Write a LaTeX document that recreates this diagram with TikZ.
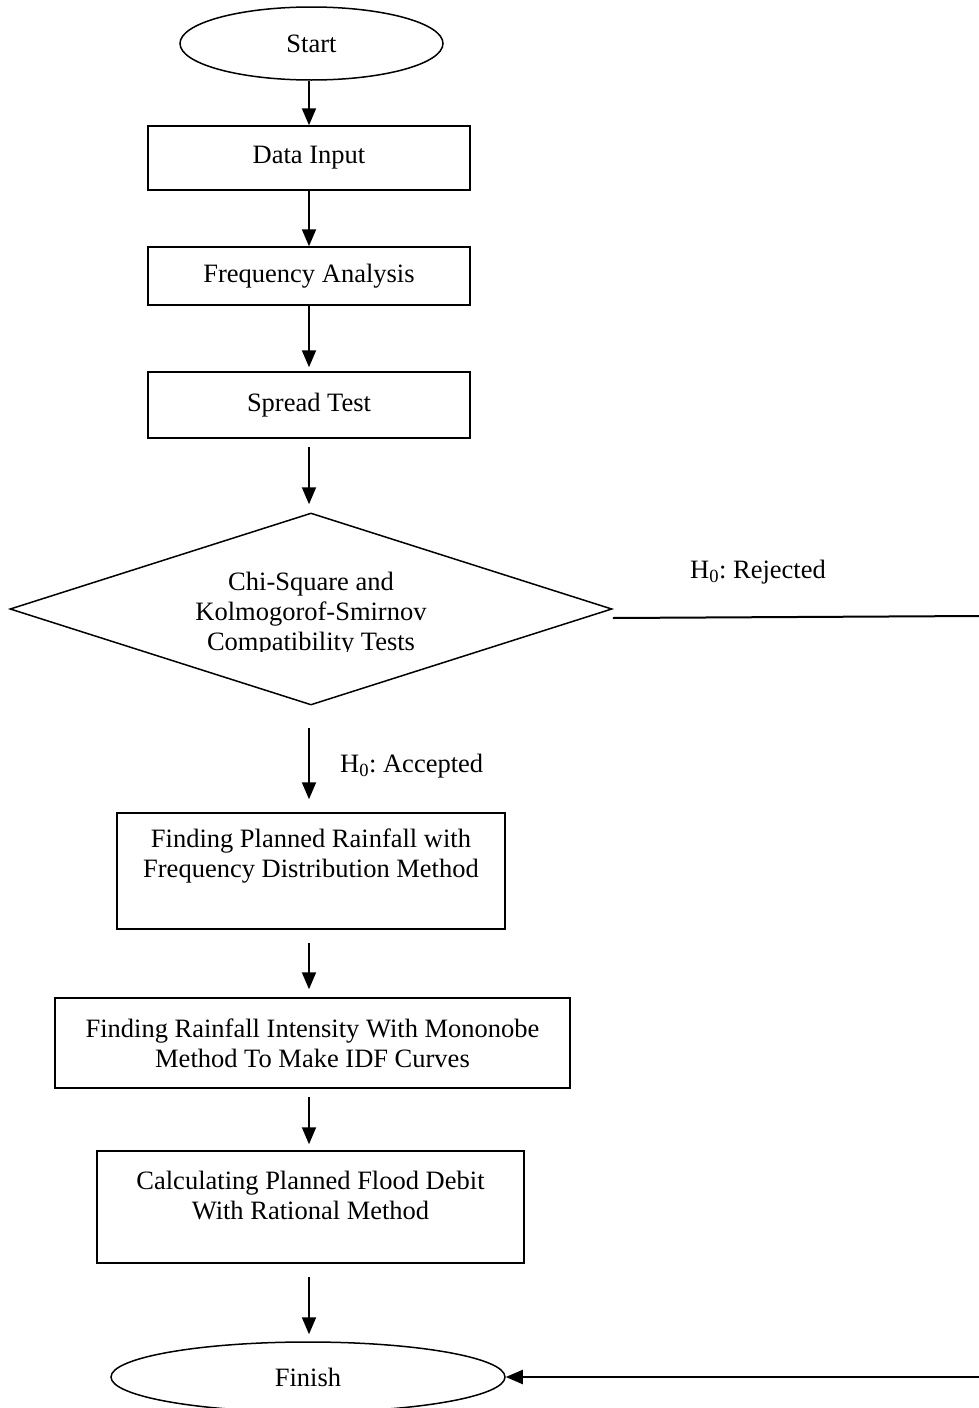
\documentclass[tikz,border=0pt]{standalone}
\usepackage{fontspec}
\setmainfont{Liberation Serif}
\usetikzlibrary{arrows.meta,shapes.geometric}
\frenchspacing
\begin{document}
\begin{tikzpicture}[x=1pt,y=-1pt,
  every node/.style={font=\fontsize{26.5}{30}\selectfont},
  box/.style={draw,line width=1.5pt,inner sep=0pt,align=center},
  term/.style={draw,ellipse,line width=1.5pt,inner sep=0pt},
  txt/.style={align=center,inner sep=0pt},
  arr/.style={line width=2pt,-{Triangle[length=17pt,width=14pt]}},
  link/.style={line width=2pt}]
\useasboundingbox (0,0) rectangle (979,1408);
\fill[white] (0,0) rectangle (979,1408);
\coordinate (ax) at (309,0);
\coordinate (R1) at (979,616);
\coordinate (R2) at (979,1377);

\node[term,minimum width=263pt,minimum height=73pt] (start) at (311.5,43.5) {Start};
\node[box,minimum width=322pt,minimum height=64pt] (input) at (309,158) {Data Input};
\node[box,minimum width=322pt,minimum height=58pt] (freq) at (309,276) {Frequency Analysis};
\node[box,minimum width=322pt,minimum height=66pt] (spread) at (309,405) {Spread Test};
\node[diamond,draw,line width=1.5pt,minimum width=602pt,minimum height=192pt,inner sep=0pt] (test) at (311,609) {};
\begin{scope}
  \clip (0,500) rectangle (979,651);
  \node[txt] (testtxt) at (311,614) {Chi-Square and\\Kolmogorof-Smirnov\\Compatibility Tests};
\end{scope}
\node[anchor=west,inner sep=0pt] (rej) at (690,572) {H\textsubscript{0}: Rejected};
\node[anchor=west,inner sep=0pt] (acc) at (340,766) {H\textsubscript{0}: Accepted};

\node[box,minimum width=388pt,minimum height=116pt] (plan) at (311,871) {};
\node[txt] (plantxt) at (311,856) {Finding Planned Rainfall with\\Frequency Distribution Method};
\node[box,minimum width=515pt,minimum height=90pt] (idf) at (312.5,1043) {Finding Rainfall Intensity With Mononobe\\Method To Make IDF Curves};
\node[box,minimum width=427pt,minimum height=112pt] (calc) at (310.5,1207) {};
\node[txt] (calctxt) at (310.5,1195) {Calculating Planned Flood Debit\\With Rational Method};
\node[term,minimum width=394pt,minimum height=70pt] (finish) at (308,1377) {Finish};

\draw[arr] (start.south -| ax) -- (input.north -| ax);
\draw[arr] (input.south -| ax) -- (freq.north -| ax);
\draw[arr,shorten >=4pt] (freq.south -| ax) -- (spread.north -| ax);
\draw[arr,shorten <=8pt,shorten >=8pt] (spread.south -| ax) -- (test.north -| ax);
\draw[arr,shorten <=22pt,shorten >=13pt] (test.south -| ax) -- (plan.north -| ax);
\draw[arr,shorten <=13pt,shorten >=8pt] (plan.south -| ax) -- (idf.north -| ax);
\draw[arr,shorten <=8pt,shorten >=6pt] (idf.south -| ax) -- (calc.north -| ax);
\draw[arr,shorten <=13pt,shorten >=7pt] (calc.south -| ax) -- (finish.north -| ax);
\draw[link] ([yshift=-9pt]test.east) -- (R1);
\draw[arr] (R2) -- (finish.east);
\end{tikzpicture}
\end{document}
